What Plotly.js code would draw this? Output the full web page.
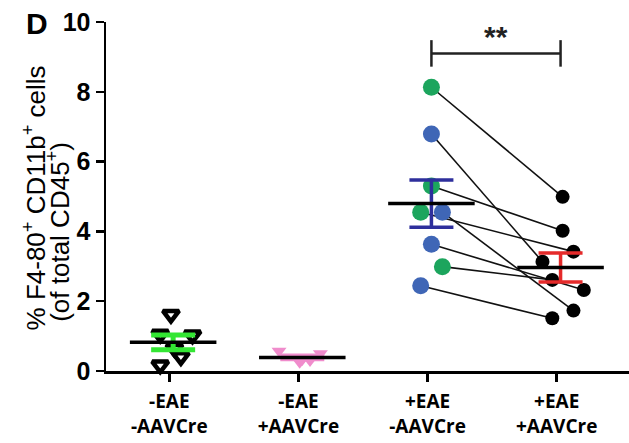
<!DOCTYPE html>
<html>
<head>
<meta charset="utf-8">
<script src="https://cdn.plot.ly/plotly-3.0.1.min.js"></script>
<style>html,body{margin:0;padding:0;background:#fff;}#chart{width:629px;height:443px;}</style>
</head>
<body>
<div id="chart"></div>
<script>
// ---- Data ----
const categories = ["-EAE<br>-AAVCre", "-EAE<br>+AAVCre", "+EAE<br>-AAVCre", "+EAE<br>+AAVCre"];
const yTicks = [0, 2, 4, 6, 8, 10];

// Group 1: -EAE -AAVCre (open black triangles)
const g1Values = [1.62, 1.05, 1.03, 0.65, 0.41, 0.17];
const g1Jitter = [-0.017, -0.10, 0.15, 0.01, 0.06, -0.10];
// Group 2: -EAE +AAVCre (pink triangles)
const g2Values = [0.57, 0.25, 0.50, 0.33, 0.30];
const g2Jitter = [-0.18, -0.02, 0.14, 0.0, 0.06];
// Group 3: +EAE -AAVCre (paired, green / blue dots)
const g3Values = [8.13, 6.79, 5.30, 4.55, 4.55, 3.63, 2.99, 2.44];
const g3Jitter = [0, 0, 0, -0.083, 0.085, 0, 0.085, -0.083];
const g3Kind   = ["g", "b", "g", "g", "b", "b", "g", "b"];
// Group 4: +EAE +AAVCre (paired with group 3, same order)
const g4Values = [4.99, 3.13, 4.02, 3.42, 1.73, 2.32, 2.61, 1.51];
const g4Jitter = [0.016, -0.14, 0.016, 0.10, 0.10, 0.18, -0.064, -0.064];

const sigPair = [2, 3];
const sigY = 9.1;
const sigLabel = "**";

// ---- Styling ----
const C_GREEN = "#1ca55d", C_BLUE = "#3f66b6";
const errColors = ["#33e633", "#f08ccc", "#2e2f9c", "#e52a2a"];
const SHIFT = 0.03;       // groups sit slightly right of the tick
const MEAN_HALF = 0.335;  // half width of mean line (category units)

function mean(a){ return a.reduce((s,v)=>s+v,0)/a.length; }
function sem(a){ const m=mean(a); const v=a.reduce((s,x)=>s+(x-m)*(x-m),0)/(a.length-1); return Math.sqrt(v/a.length); }

const groups = [g1Values, g2Values, g3Values, g4Values];
const centers = [0,1,2,3].map(i => i + SHIFT);

const traces = [];

// paired connecting lines
const lx = [], ly = [];
g3Values.forEach((v,i)=>{
  lx.push(centers[2]+g3Jitter[i], centers[3]+g4Jitter[i], null);
  ly.push(v, g4Values[i], null);
});
traces.push({x:lx, y:ly, mode:"lines", line:{color:"#111", width:1.6}, hoverinfo:"skip", cliponaxis:false});

// group 1 triangles
traces.push({x:g1Values.map((v,i)=>centers[0]+g1Jitter[i]), y:g1Values, mode:"markers",
  marker:{symbol:"triangle-down-open", size:14, color:"#000", line:{width:4.5, color:"#000"}}, cliponaxis:false});
// group 2 triangles
traces.push({x:g2Values.map((v,i)=>centers[1]+g2Jitter[i]), y:g2Values, mode:"markers",
  marker:{symbol:"triangle-down", size:13, color:"#f08ccc", line:{width:0}}, cliponaxis:false});
// group 3 dots
traces.push({x:g3Values.map((v,i)=>centers[2]+g3Jitter[i]), y:g3Values, mode:"markers",
  marker:{symbol:"circle", size:17, color:g3Kind.map(k=>k==="g"?C_GREEN:C_BLUE), line:{width:0}}, cliponaxis:false});
// group 4 dots
traces.push({x:g4Values.map((v,i)=>centers[3]+g4Jitter[i]), y:g4Values, mode:"markers",
  marker:{symbol:"circle", size:14, color:"#000", line:{width:0}}, cliponaxis:false});

// error bars (SEM)
groups.forEach((g,i)=>{
  traces.push({x:[centers[i]], y:[mean(g)], mode:"markers", marker:{opacity:0, size:1},
    error_y:{type:"data", array:[sem(g)], color:errColors[i], thickness: i===0?5:3.5, width:22},
    hoverinfo:"skip", cliponaxis:false});
});

// mean lines
const mx = [], my = [];
groups.forEach((g,i)=>{ const m = mean(g); mx.push(centers[i]-MEAN_HALF, centers[i]+MEAN_HALF, null); my.push(m, m, null); });
traces.push({x:mx, y:my, mode:"lines", line:{color:"#000", width:3.5}, hoverinfo:"skip", cliponaxis:false});

const FONT = "Arial, 'Liberation Sans', sans-serif";

const layout = {
  width: 629, height: 443,
  margin: {l:106, r:0, t:22, b:72},
  paper_bgcolor:"#fff", plot_bgcolor:"#fff",
  showlegend:false,
  xaxis: {
    range:[-0.49, 3.56], tickvals:[0,1,2,3], ticktext:categories,
    showline:true, linecolor:"#000", linewidth:2.5, ticks:"outside", ticklen:8, tickwidth:2.5, tickcolor:"#000",
    showgrid:false, zeroline:false, ticklabelstandoff:4,
    tickfont:{family:"'Open Sans', sans-serif", size:19, color:"#000", weight:700}
  },
  yaxis: {
    range:[0,10], tickvals:yTicks, ticktext:yTicks.map(String),
    showline:true, linecolor:"#000", linewidth:2.5, ticks:"outside", ticklen:8, tickwidth:2.5, tickcolor:"#000",
    showgrid:false, zeroline:false,
    tickfont:{family:FONT, size:25, color:"#000", weight:700}
  },
  shapes: [
    {type:"line", xref:"x", yref:"y", x0:sigPair[0]+SHIFT, x1:sigPair[1]+SHIFT, y0:sigY, y1:sigY, line:{color:"#222", width:2.5}},
    {type:"line", xref:"x", yref:"y", x0:sigPair[0]+SHIFT, x1:sigPair[0]+SHIFT, y0:sigY-0.38, y1:sigY+0.38, line:{color:"#222", width:2.5}},
    {type:"line", xref:"x", yref:"y", x0:sigPair[1]+SHIFT, x1:sigPair[1]+SHIFT, y0:sigY-0.38, y1:sigY+0.38, line:{color:"#222", width:2.5}}
  ],
  annotations: [
    {text:sigLabel, xref:"x", yref:"y", x:(sigPair[0]+sigPair[1])/2+SHIFT, y:sigY-0.05, yanchor:"bottom", showarrow:false,
     font:{family:FONT, size:30, color:"#222", weight:700}},
    {text:"D", xref:"paper", yref:"paper", x:-0.132, y:0.997, xanchor:"center", yanchor:"middle", showarrow:false,
     font:{family:FONT, size:30, color:"#000", weight:700}},
    {text:"% F4-80<sup>+</sup> CD11b<sup>+</sup> cells", xref:"paper", yref:"paper", x:-0.137, y:0.11,
     xanchor:"center", yanchor:"bottom", textangle:-90, showarrow:false, font:{family:FONT, size:26, color:"#000"}},
    {text:"(of total CD45<sup>+</sup>)", xref:"paper", yref:"paper", x:-0.09, y:0.135,
     xanchor:"center", yanchor:"bottom", textangle:-90, showarrow:false, font:{family:FONT, size:26, color:"#000"}}
  ]
};

Plotly.newPlot("chart", traces, layout, {displayModeBar:false, staticPlot:true});
</script>
</body>
</html>
